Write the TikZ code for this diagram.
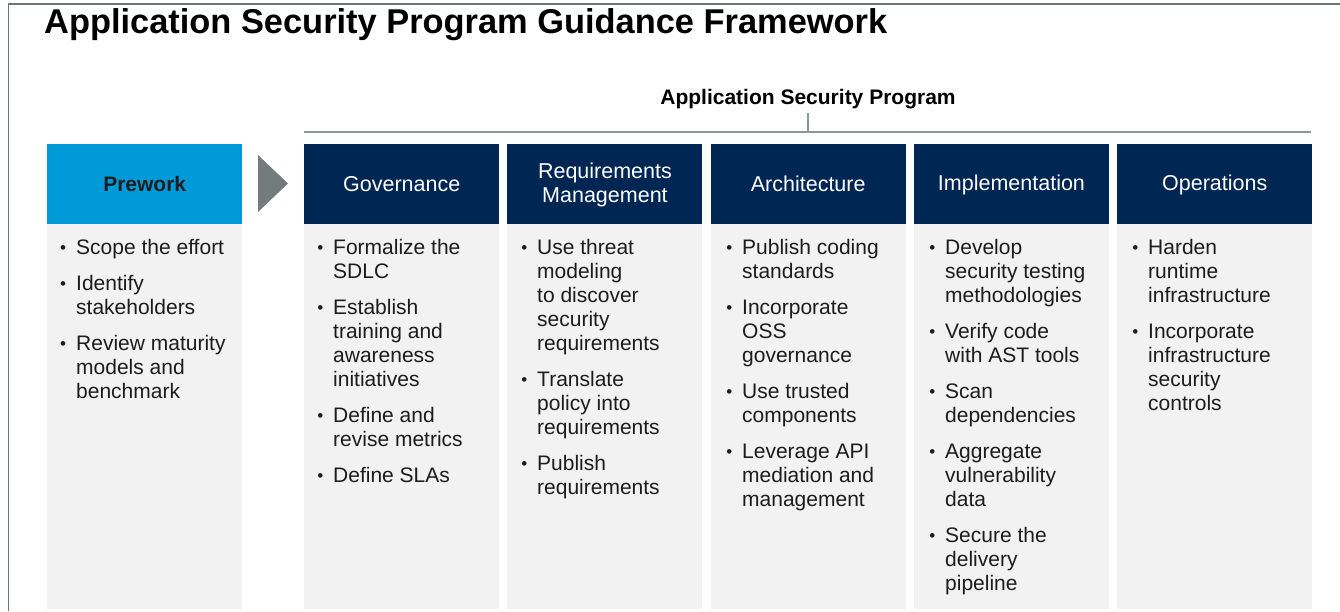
\documentclass[tikz,border=0pt]{standalone}
\usepackage{fontspec}
\setmainfont{Liberation Sans}
\definecolor{navy}{HTML}{002654}
\definecolor{skyblue}{HTML}{009AD9}
\definecolor{bodyg}{HTML}{F2F2F2}
\definecolor{arrowc}{HTML}{737B7B}
\definecolor{framec}{HTML}{6B7575}
\definecolor{linec}{HTML}{8E9696}
\definecolor{txt}{HTML}{1C1C1C}
\newcommand{\bi}{\llap{\raisebox{1pt}{\fontsize{17}{17}\selectfont\textbullet}\hspace{10pt}}}
\newcommand{\hs}{\rule[-3pt]{0pt}{21pt}}
\tikzset{
  hdr/.style={fill=navy, text=white, minimum width=195, minimum height=80, inner sep=0pt,
    align=center, font=\fontsize{21.5}{24}\selectfont, anchor=north west},
  prehdr/.style={hdr, fill=skyblue, text=txt, font=\fontsize{21}{24}\selectfont\bfseries},
  colbody/.style={fill=bodyg, minimum width=195, minimum height=385, inner sep=0pt, anchor=north west},
  items/.style={anchor=north west, inner sep=0pt, align=left, font=\fontsize{21}{24}\selectfont, text=txt},
}
\begin{document}
\begin{tikzpicture}[x=1pt,y=-1pt]
\useasboundingbox (0,0) rectangle (1340,611);
% frame
\draw[framec, line width=1.6pt] (8.5,611) -- (8.5,4) -- (1340,4);
% title
\node[anchor=base west, inner sep=0pt, font=\fontsize{34.4}{40}\selectfont\bfseries, text=black] (title) at (44,33) {Application Security Program Guidance Framework};
% program label and bracket line
\node[anchor=base, inner sep=0pt, font=\fontsize{21}{24}\selectfont\bfseries, text=black] (prog) at (808,104) {Application Security Program};
\coordinate (lineL) at (304,132);
\coordinate (lineR) at (1311,132);
\coordinate (tickT) at (808,113);
\coordinate (tickB) at (808,132);
\draw[linec, line width=1.5pt] (lineL) -- (lineR);
\draw[linec, line width=1.5pt] (tickT) -- (tickB);
% bodies
\node[colbody] (b0) at (47,223.5) {};
\node[colbody] (b1) at (304,223.5) {};
\node[colbody] (b2) at (507.25,223.5) {};
\node[colbody] (b3) at (710.5,223.5) {};
\node[colbody] (b4) at (913.75,223.5) {};
\node[colbody] (b5) at (1117,223.5) {};
% headers
\node[prehdr] (h0) at (47,143.5) {\hs Prework};
\node[hdr] (h1) at (304,143.5) {\hs Governance};
\node[hdr] (h2) at (507.25,143.5) {\hs Requirements\\\hs Management};
\node[hdr] (h3) at (710.5,143.5) {\hs Architecture};
\node[hdr] (h4) at (913.75,143.5) {\hs Implementation};
\node[hdr] (h5) at (1117,143.5) {\hs Operations};
% arrow
\fill[arrowc] (258,155) -- (258,212) -- (288,183.5) -- cycle;
% items
\node[items] (t0) at (76,237.2) {\strut\bi Scope the effort\\[12pt]\bi Identify\\stakeholders\\[12pt]\bi Review maturity\\models and\\benchmark};
\node[items] (t1) at (333,237.2) {\strut\bi Formalize the\\SDLC\\[12pt]\bi Establish\\training and\\awareness\\initiatives\\[12pt]\bi Define and\\revise metrics\\[12pt]\bi Define SLAs};
\node[items] (t2) at (537,237.2) {\strut\bi Use threat\\modeling\\to discover\\security\\requirements\\[12pt]\bi Translate\\policy into\\requirements\\[12pt]\bi Publish\\requirements};
\node[items] (t3) at (742,237.2) {\strut\bi Publish coding\\standards\\[12pt]\bi Incorporate\\OSS\\governance\\[12pt]\bi Use trusted\\components\\[12pt]\bi Leverage API\\mediation and\\management};
\node[items] (t4) at (945,237.2) {\strut\bi Develop\\security testing\\methodologies\\[12pt]\bi Verify code\\with AST tools\\[12pt]\bi Scan\\dependencies\\[12pt]\bi Aggregate\\vulnerability\\data\\[12pt]\bi Secure the\\delivery\\pipeline};
\node[items] (t5) at (1148,237.2) {\strut\bi Harden\\runtime\\infrastructure\\[12pt]\bi Incorporate\\infrastructure\\security\\controls};
\end{tikzpicture}
\end{document}
